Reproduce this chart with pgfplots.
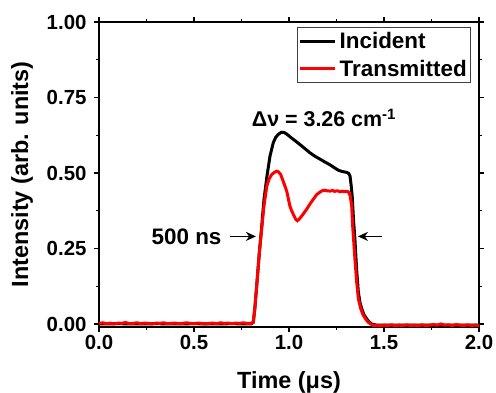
\documentclass[border=0pt]{standalone}
\usepackage{pgfplots}
\pgfplotsset{compat=1.18}
\usepackage{fontspec}
\setmainfont{Liberation Sans}
\usetikzlibrary{arrows.meta}

\begin{document}
\begin{tikzpicture}
\begin{axis}[
  scale only axis,
  width=380bp, height=305bp,
  xmin=0, xmax=2, ymin=-0.01, ymax=1.0,
  xtick={0,0.5,1,1.5,2},
  ytick={0,0.25,0.5,0.75,1},
  minor x tick num=1, minor y tick num=1,
  tick align=outside,
  major tick length=5bp, minor tick length=3bp,
  every tick/.style={black, line width=1.3bp},
  axis line style={line width=1.6bp},
  /pgf/number format/assume math mode=true,
  xticklabel style={/pgf/number format/.cd, fixed, fixed zerofill, precision=1},
  yticklabel style={xshift=-4bp, /pgf/number format/.cd, fixed, fixed zerofill, precision=2},
  tick label style={font=\fontsize{20.5}{22}\selectfont\bfseries},
  xlabel={Time (μs)},
  ylabel={Intensity (arb. units)},
  every axis x label/.style={at={(rel axis cs:0.5,-0.2)}, anchor=base,
    font=\fontsize{23.5}{26}\selectfont\bfseries},
  every axis y label/.style={at={(rel axis cs:-0.2026,0.5)}, anchor=center, rotate=90,
    font=\fontsize{23.5}{26}\selectfont\bfseries},
  legend style={at={(rel axis cs:0.979,0.984)}, anchor=north east,
    draw=black!75, line width=0.6bp, font=\fontsize{22.5}{25}\selectfont\bfseries,
    inner xsep=1bp, inner ysep=3bp, row sep=6bp,
    nodes={inner xsep=3bp}},
  legend cell align=left,
  legend image code/.code={\draw[#1, line width=3bp] (-3bp,0bp) -- (32bp,0bp);},
]
\addplot[black, line width=3bp] coordinates {
(0.00,0.000) (0.10,0.001) (0.20,0.000) (0.30,0.001) (0.40,0.000) (0.50,0.001)
(0.60,0.000) (0.70,0.001) (0.80,0.000)
(0.812,0.005) (0.82,0.05) (0.83,0.126) (0.844,0.237) (0.856,0.320) (0.868,0.41)
(0.883,0.485) (0.90,0.556) (0.917,0.60) (0.93,0.618) (0.944,0.628) (0.96,0.635)
(0.975,0.634) (0.99,0.628) (1.005,0.620) (1.03,0.608) (1.058,0.594) (1.085,0.580)
(1.11,0.567) (1.135,0.556) (1.163,0.546) (1.19,0.536) (1.216,0.527) (1.24,0.517)
(1.26,0.509) (1.28,0.505) (1.304,0.502) (1.315,0.498) (1.321,0.490) (1.327,0.46)
(1.333,0.42) (1.34,0.34) (1.347,0.28) (1.356,0.18) (1.365,0.105) (1.374,0.07)
(1.383,0.05) (1.395,0.03) (1.409,0.017) (1.42,0.008) (1.435,0.0) (1.46,-0.004)
(1.60,-0.004) (1.80,-0.004) (2.00,-0.004)
};
\addlegendentry{Incident}
\addplot[red, line width=3bp] coordinates {
(0.00,0.002) (0.02,0.004) (0.04,0.001) (0.06,0.003) (0.08,0.000) (0.10,0.003)
(0.12,0.002) (0.14,0.005) (0.16,0.001) (0.18,0.002) (0.20,0.004) (0.22,0.001)
(0.24,0.003) (0.26,0.002) (0.28,0.000) (0.30,0.003) (0.32,0.002) (0.34,0.004)
(0.36,0.001) (0.38,0.002) (0.40,0.003) (0.42,0.001) (0.44,0.002) (0.46,0.004)
(0.48,0.002) (0.50,0.001) (0.52,0.003) (0.54,0.002) (0.56,0.000) (0.58,0.002)
(0.60,0.003) (0.62,0.001) (0.64,0.004) (0.66,0.002) (0.68,0.003) (0.70,0.001)
(0.72,0.003) (0.74,0.002) (0.76,0.004) (0.78,0.002) (0.80,0.002)
(0.812,0.006) (0.82,0.05) (0.83,0.126) (0.844,0.237) (0.856,0.313) (0.868,0.39)
(0.883,0.456) (0.895,0.48) (0.909,0.495) (0.925,0.503) (0.935,0.506) (0.944,0.504)
(0.956,0.495) (0.968,0.475) (0.979,0.456) (0.988,0.44) (1.005,0.39) (1.014,0.375)
(1.025,0.36) (1.035,0.347) (1.044,0.342) (1.055,0.348) (1.07,0.36) (1.093,0.38)
(1.11,0.397) (1.128,0.413) (1.145,0.428) (1.163,0.437) (1.178,0.442) (1.19,0.443)
(1.20,0.441) (1.216,0.440) (1.23,0.442) (1.24,0.439) (1.25,0.441) (1.26,0.440)
(1.27,0.438) (1.28,0.440) (1.29,0.438) (1.30,0.439) (1.312,0.438) (1.322,0.425)
(1.33,0.39) (1.335,0.325) (1.347,0.215) (1.356,0.14) (1.365,0.083) (1.378,0.05)
(1.39,0.03) (1.405,0.015) (1.418,0.005) (1.443,-0.005)
(1.46,-0.004) (1.48,-0.006) (1.50,-0.004) (1.52,-0.005) (1.54,-0.003) (1.56,-0.006)
(1.58,-0.004) (1.60,-0.005) (1.62,-0.003) (1.64,-0.005) (1.66,-0.004) (1.68,-0.006)
(1.70,-0.003) (1.72,-0.005) (1.74,-0.004) (1.76,-0.002) (1.78,-0.004) (1.80,0.000)
(1.82,-0.004) (1.84,-0.003) (1.86,-0.005) (1.88,-0.002) (1.90,-0.004) (1.92,-0.005)
(1.94,-0.003) (1.96,-0.005) (1.98,-0.004) (2.00,-0.005)
};
\addlegendentry{Transmitted}
\node[anchor=base, font=\fontsize{21.5}{24}\selectfont\bfseries] at (axis cs:1.184,0.653)
  {Δν = 3.26 cm\textsuperscript{-1}};
\node[anchor=base east, font=\fontsize{22.5}{24}\selectfont\bfseries] at (axis cs:0.663,0.264) {500 ns};
\draw[-{Stealth[length=10bp,width=9bp]}, line width=1.8bp] (axis cs:0.689,0.29) -- (axis cs:0.826,0.29);
\draw[-{Stealth[length=10bp,width=9bp]}, line width=1.8bp] (axis cs:1.489,0.29) -- (axis cs:1.363,0.29);
\end{axis}
\pgfresetboundingbox
\useasboundingbox ([shift={(-99bp,-66bp)}]current axis.south west) rectangle ([shift={(17bp,22bp)}]current axis.north east);
\end{tikzpicture}
\end{document}
